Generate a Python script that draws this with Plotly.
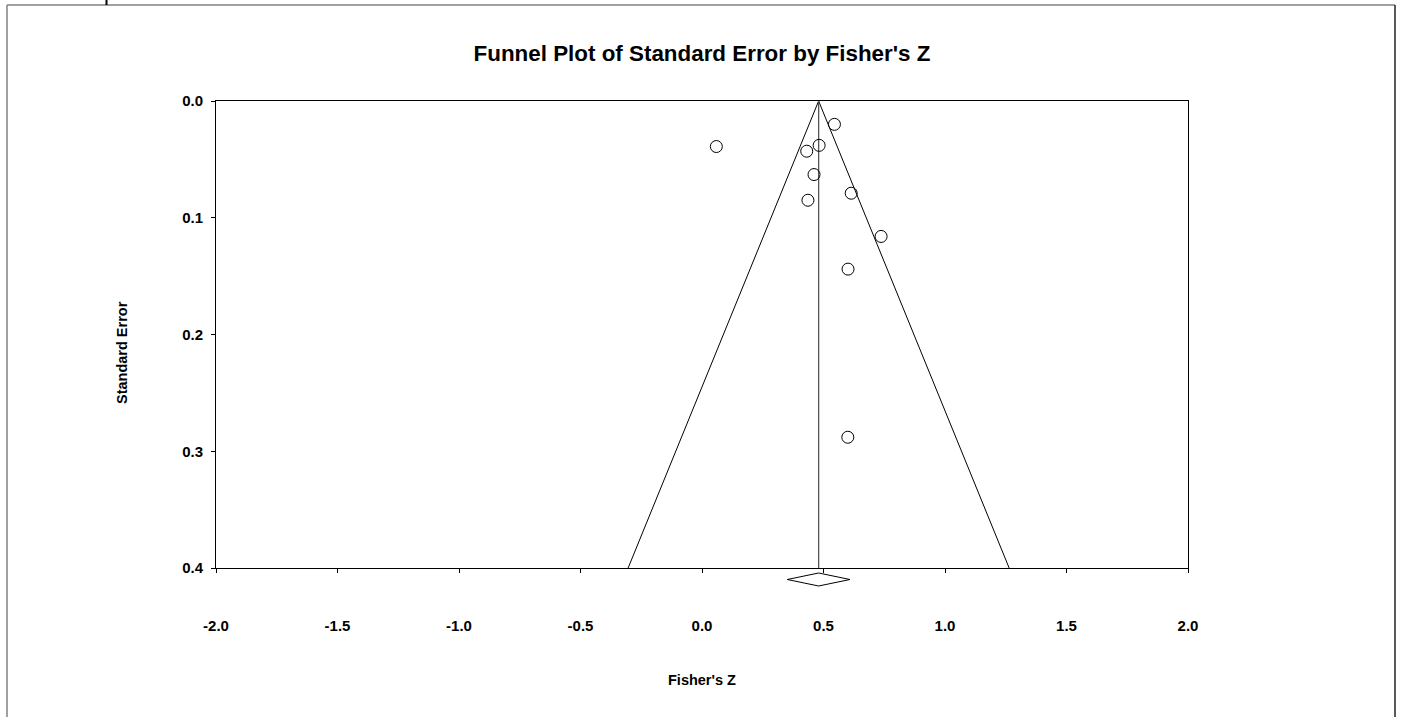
import plotly.graph_objects as go

# ---- data ----
fisher_z = [0.545, 0.059, 0.431, 0.482, 0.461, 0.614, 0.436, 0.737, 0.601, 0.600]
std_err = [0.020, 0.039, 0.043, 0.038, 0.063, 0.079, 0.085, 0.116, 0.144, 0.288]
pooled_z = 0.480
pooled_ci_low = 0.351
pooled_ci_high = 0.609
se_max = 0.4
z_crit = 1.96
x_ticks = [-2.0, -1.5, -1.0, -0.5, 0.0, 0.5, 1.0, 1.5, 2.0]
x_tick_labels = ["-2.0", "-1.5", "-1.0", "-0.5", "0.0", "0.5", "1.0", "1.5", "2.0"]
y_ticks = [0.0, 0.1, 0.2, 0.3, 0.4]
y_tick_labels = ["0.0", "0.1", "0.2", "0.3", "0.4"]

W, H = 1411, 717

ML = 216
MR = W - 1188
MT = 101
MB = H - 600
plot_w = W - ML - MR
plot_h = H - MT - MB


def paper_y(py):
    return (600 - py) / plot_h


def paper_x(px):
    return (px - ML) / plot_w


FONT = dict(family="Liberation Sans, Arial, sans-serif", color="black")

fig = go.Figure()

# funnel (pseudo 95% limits)
fig.add_trace(go.Scatter(
    x=[pooled_z - z_crit * se_max, pooled_z, pooled_z + z_crit * se_max],
    y=[se_max, 0, se_max],
    mode="lines", line=dict(color="black", width=1),
    hoverinfo="skip", showlegend=False, xaxis="x", yaxis="y"))
# mean line
fig.add_trace(go.Scatter(
    x=[pooled_z, pooled_z], y=[0, se_max],
    mode="lines", line=dict(color="#555555", width=1.3),
    hoverinfo="skip", showlegend=False, xaxis="x", yaxis="y"))
# studies
fig.add_trace(go.Scatter(
    x=fisher_z, y=std_err, mode="markers",
    marker=dict(symbol="circle-open", size=12, color="black", line=dict(width=1)),
    showlegend=False, xaxis="x", yaxis="y", cliponaxis=False))
# summary diamond
fig.add_trace(go.Scatter(
    x=[pooled_ci_low, pooled_z, pooled_ci_high, pooled_z, pooled_ci_low],
    y=[0, 1, 0, -1, 0],
    mode="lines", fill="toself", fillcolor="white",
    line=dict(color="black", width=1),
    hoverinfo="skip", showlegend=False, xaxis="x2", yaxis="y2"))

fig.update_layout(
    width=W, height=H,
    margin=dict(l=ML, r=MR, t=MT, b=MB),
    paper_bgcolor="white", plot_bgcolor="white",
    font=FONT,
    title=dict(text="Funnel Plot of Standard Error by Fisher's Z",
               x=(ML + plot_w / 2) / W, xanchor="center",
               y=1 - 53 / H, yanchor="middle",
               font=dict(size=22.4, weight="bold", **FONT)),
    xaxis=dict(domain=[0, 1], range=[-2, 2], anchor="y",
               tickvals=x_ticks, ticktext=x_tick_labels,
               ticks="outside", ticklen=4, tickcolor="black",
               ticklabelstandoff=40,
               showline=True, linecolor="black", linewidth=1, mirror=True,
               showgrid=False, zeroline=False,
               tickfont=dict(size=15, weight="bold", **FONT)),
    yaxis=dict(domain=[paper_y(568), 1], range=[se_max, 0], anchor="x",
               tickvals=y_ticks, ticktext=y_tick_labels,
               ticks="outside", ticklen=4, tickcolor="black",
               ticklabelstandoff=5,
               showline=True, linecolor="black", linewidth=1, mirror=True,
               showgrid=False, zeroline=False,
               tickfont=dict(size=15, weight="bold", **FONT)),
    xaxis2=dict(domain=[0, 1], matches="x", anchor="y2", visible=False),
    yaxis2=dict(domain=[paper_y(587), paper_y(572)], range=[-1.154, 1.154],
                anchor="x2", visible=False),
    annotations=[
        dict(text="Fisher's Z", xref="paper", yref="paper",
             x=0.5, y=paper_y(680), xanchor="center", yanchor="middle",
             showarrow=False, font=dict(size=14.5, weight="bold", **FONT)),
        dict(text="Standard Error", xref="paper", yref="paper",
             x=paper_x(122), y=paper_y(353),
             xanchor="center", yanchor="middle", textangle=-90,
             showarrow=False, font=dict(size=14.5, weight="bold", **FONT)),
    ],
    shapes=[
        # outer frame
        dict(type="line", xref="paper", yref="paper",
             x0=paper_x(7), x1=paper_x(1395),
             y0=paper_y(5), y1=paper_y(5), line=dict(color="#808080", width=1.5)),
        dict(type="line", xref="paper", yref="paper",
             x0=paper_x(7), x1=paper_x(7),
             y0=paper_y(5), y1=paper_y(730), line=dict(color="#808080", width=1.5)),
        dict(type="line", xref="paper", yref="paper",
             x0=paper_x(1395), x1=paper_x(1395),
             y0=paper_y(5), y1=paper_y(730), line=dict(color="#222222", width=1.5)),
        dict(type="line", xref="paper", yref="paper",
             x0=paper_x(106.5), x1=paper_x(106.5),
             y0=paper_y(0), y1=paper_y(5), line=dict(color="black", width=2)),
    ],
)

fig.write_html(
    "out.html",
    config={"displayModeBar": False},
    post_script="document.body.style.margin='0';document.body.style.overflow='hidden';",
)
